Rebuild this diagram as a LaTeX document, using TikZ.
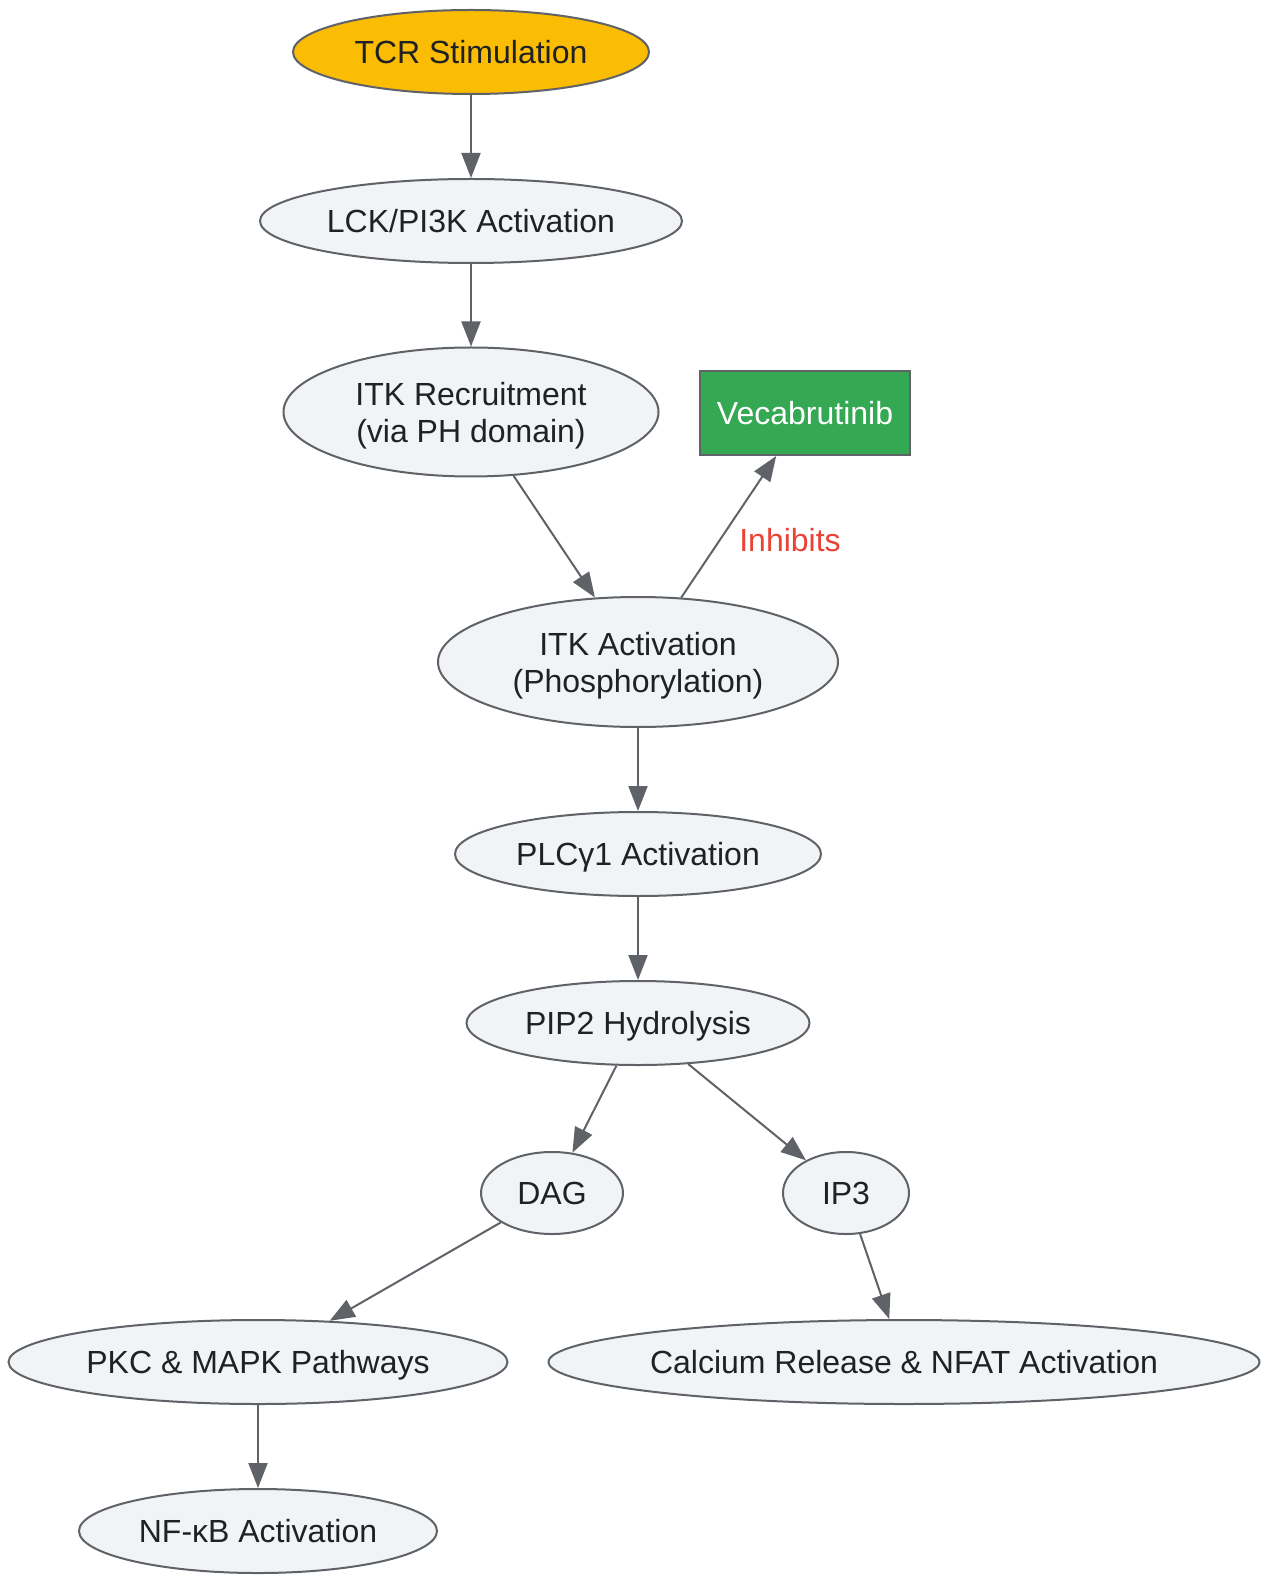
\documentclass[tikz,border=0pt]{standalone}
\usepackage{fontspec}
\setmainfont{Liberation Sans}
\usetikzlibrary{shapes.geometric,arrows.meta}
\definecolor{bord}{HTML}{5F6368}
\definecolor{lightfill}{HTML}{F1F3F4}
\definecolor{txt}{HTML}{202124}
\definecolor{gyellow}{HTML}{FBBC04}
\definecolor{ggreen}{HTML}{34A853}
\definecolor{gred}{HTML}{EA4335}
\newcommand{\ctext}[1]{\makebox[0pt][c]{\raisebox{-6.5pt}[0pt][0pt]{\begin{tabular}{@{}c@{}}#1\end{tabular}}}}
\begin{document}
\begin{tikzpicture}[x=0.5pt,y=-0.5pt,
  every node/.style={font=\fontsize{16}{18.5}\selectfont, text=txt},
  ell/.style={ellipse, draw=bord, line width=1pt, fill=lightfill, inner sep=0pt},
  box/.style={rectangle, draw=bord, line width=1pt, inner sep=0pt},
  arr/.style={draw=bord, line width=1pt, -{Triangle[length=12.5pt,width=9.5pt]}}]
\fill[white] (0,0) rectangle (1276,1582);

\node[ell, fill=gyellow, minimum width=178pt, minimum height=42pt] (tcr) at (471,52) {\ctext{TCR Stimulation}};
\node[ell, minimum width=211pt, minimum height=42pt] (lck) at (471,221) {\ctext{LCK/PI3K Activation}};
\node[ell, minimum width=187.5pt, minimum height=64.5pt] (itkr) at (471,412) {\ctext{ITK Recruitment\\(via PH domain)}};
\node[box, fill=ggreen, minimum width=105pt, minimum height=42pt, text=white] (vec) at (805,413) {\ctext{Vecabrutinib}};
\node[ell, minimum width=200pt, minimum height=65pt] (itka) at (638,662) {\ctext{ITK Activation\\(Phosphorylation)}};
\node[ell, minimum width=183pt, minimum height=42pt] (plc) at (638,854) {\ctext{PLCγ1 Activation}};
\node[ell, minimum width=171.5pt, minimum height=42pt] (pip) at (638,1023) {\ctext{PIP2 Hydrolysis}};
\node[ell, minimum width=71pt, minimum height=41pt] (dag) at (552,1193) {\ctext{DAG}};
\node[ell, minimum width=63pt, minimum height=41pt] (ip3) at (846,1193) {\ctext{IP3}};
\node[ell, minimum width=249.5pt, minimum height=42pt] (pkc) at (258,1362) {\ctext{PKC \& MAPK Pathways}};
\node[ell, minimum width=355.5pt, minimum height=42pt] (cal) at (904,1362) {\ctext{Calcium Release \& NFAT Activation}};
\node[ell, minimum width=179pt, minimum height=42pt] (nfk) at (258,1531) {\ctext{NF-κB Activation}};

\draw[arr] (tcr) -- (lck);
\draw[arr] (lck) -- (itkr);
\draw[arr] (itkr) -- (itka);
\draw[arr] (itka) -- (vec);
\node[text=gred] (inh) at (790,540) {\ctext{Inhibits}};
\draw[arr] (itka) -- (plc);
\draw[arr] (plc) -- (pip);
\draw[arr] (pip) -- (dag);
\draw[arr] (pip) -- (ip3);
\draw[arr] (dag) -- (pkc);
\draw[arr] (ip3) -- (cal);
\draw[arr] (pkc) -- (nfk);
\end{tikzpicture}
\end{document}
